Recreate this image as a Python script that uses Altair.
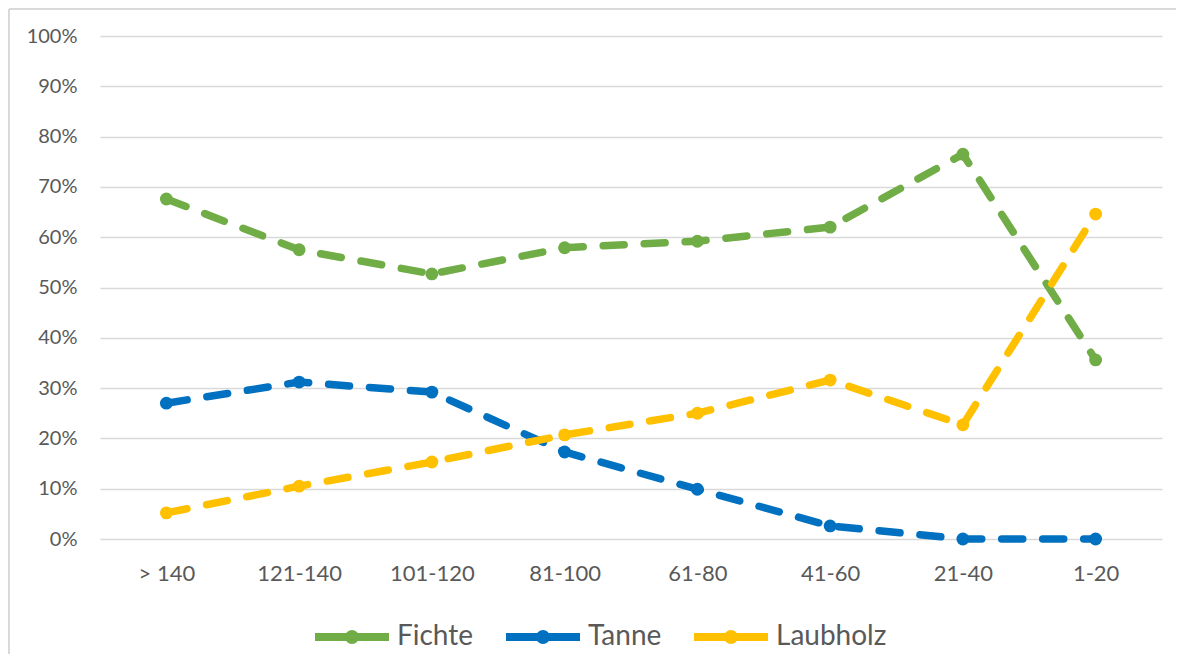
import altair as alt
import pandas as pd

categories = ["> 140", "121-140", "101-120", "81-100", "61-80", "41-60", "21-40", "1-20"]
fichte = [67.6, 57.5, 52.7, 57.9, 59.2, 62.0, 76.5, 35.6]
tanne = [27.0, 31.2, 29.2, 17.3, 9.9, 2.6, 0.0, 0.0]
laubholz = [5.2, 10.5, 15.3, 20.7, 25.0, 31.6, 22.7, 64.6]
series = ["Fichte", "Tanne", "Laubholz"]
colors = ["#70AD47", "#0070C0", "#FFC000"]
y_ticks = [i / 10 for i in range(11)]

rows = []
for s, vals in zip(series, [fichte, tanne, laubholz]):
    for c, v in zip(categories, vals):
        rows.append({"Klasse": c, "Serie": s, "Wert": v / 100})
df = pd.DataFrame(rows)

W, H = 1062, 503
FONT = "Lato"
TXT = "#595959"

x_enc = alt.X("Klasse:O", sort=categories, scale=alt.Scale(type="point", padding=0.5),
              axis=alt.Axis(title=None, labelAngle=0, labelFontSize=22, labelColor=TXT,
                            labelFont=FONT, ticks=False, domain=False, labelPadding=24, grid=False))
y_enc = alt.Y("Wert:Q", scale=alt.Scale(domain=[0, 1], nice=False),
              axis=alt.Axis(title=None, format=".0%", values=y_ticks, labelFontSize=20,
                            labelColor=TXT, labelFont=FONT, ticks=False, domain=False,
                            labelPadding=23, gridColor="#D9D9D9", gridWidth=1.3))
legend = alt.Legend(title=None, orient="none", direction="horizontal", legendX=211, legendY=560,
                    symbolType="M-1,0L1,0M0.08,0A0.08,0.08 0 1,1 -0.08,0A0.08,0.08 0 1,1 0.08,0",
                    symbolSize=5476, symbolStrokeWidth=8, labelFontSize=28, labelColor=TXT,
                    labelFont=FONT, columnPadding=16, labelOffset=4)
color = alt.Color("Serie:N", sort=series, scale=alt.Scale(domain=series, range=colors), legend=legend)

base = alt.Chart(df)
lines = base.mark_line(strokeWidth=7.5, strokeDash=[21, 20], strokeCap="round").encode(
    x=x_enc, y=y_enc, color=color, detail="Serie:N")
points = base.mark_circle(size=165, opacity=1).encode(x=x_enc, y=y_enc, color=color)

frame = pd.DataFrame({"a": [0]})
left_edge = alt.Chart(frame).mark_rule(stroke="#D9D9D9", strokeWidth=2).encode(
    x=alt.value(-91), y=alt.value(-27), y2=alt.value(700))
top_edge = alt.Chart(frame).mark_rule(stroke="#D9D9D9", strokeWidth=2).encode(
    x=alt.value(-91), x2=alt.value(1120), y=alt.value(-27))

chart = alt.layer(left_edge, top_edge, lines, points).properties(
    width=W, height=H,
    autosize=alt.AutoSizeParams(type="none"),
    padding={"left": 92, "top": 28, "right": 14, "bottom": 115},
).configure_view(stroke=None)

chart.save("out.html", embed_options={"renderer": "svg", "actions": False})
